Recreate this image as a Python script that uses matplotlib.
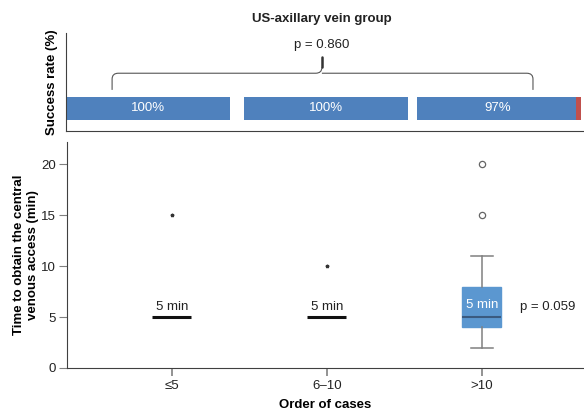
import matplotlib.pyplot as plt
from matplotlib.path import Path
from matplotlib.patches import PathPatch

plt.rcParams['font.family'] = ['Liberation Sans', 'DejaVu Sans']
plt.rcParams['font.size'] = 9.5
plt.rcParams['text.color'] = '#222222'

# data
groups = ["≤5", "6–10", ">10"]
success = [100, 100, 97]
medians = [5, 5, 5]
q1 = [5, 5, 4]
q3 = [5, 5, 8]
whislo = [5, 5, 2]
whishi = [5, 5, 11]
outliers = [[], [], [15, 20]]
extremes = [[15], [10], []]
p_success = "p = 0.860"
p_time = "p = 0.059"

blue_bar = "#4f81bd"
red_bar = "#c0504d"
box_blue = "#5b97d0"
spine_col = "#404040"
fs = 9.5

fig = plt.figure(figsize=(5.84, 4.15), dpi=100)
ax_top = fig.add_axes([0.113, 0.6843, 0.887, 0.236])
ax = fig.add_axes([0.1142, 0.1133, 0.8858, 0.5445])

# ---- top: success rate bars ----
seg_left = [0.0, 0.344, 0.678]
seg_w = 0.316
for left, s in zip(seg_left, success):
    w_ok = seg_w * s / 100
    ax_top.barh(0.23, w_ok, left=left, height=0.235, color=blue_bar)
    if s < 100:
        ax_top.barh(0.23, seg_w - w_ok, left=left + w_ok, height=0.235, color=red_bar)
    ax_top.text(left + seg_w / 2 - (0.003 if s < 100 else 0), 0.23, f"{s}%",
                color="white", ha="center", va="center", fontsize=fs)

# brace
x0, x1, xc, yh, yb = 0.089, 0.9015, 0.494, 0.59, 0.42
rx, ry = 0.012, 0.06
verts = [(x0, yb), (x0, yh - ry), (x0, yh), (x0 + rx, yh), (xc - rx, yh),
         (xc, yh), (xc, yh + ry),
         (xc, yh), (xc + rx, yh), (x1 - rx, yh), (x1, yh), (x1, yh - ry), (x1, yb)]
codes = [Path.MOVETO, Path.LINETO, Path.CURVE3, Path.CURVE3, Path.LINETO,
         Path.CURVE3, Path.CURVE3,
         Path.MOVETO, Path.CURVE3, Path.LINETO, Path.CURVE3, Path.CURVE3, Path.LINETO]
ax_top.add_patch(PathPatch(Path(verts, codes), fill=False, edgecolor="#555555", lw=0.8))
ax_top.plot([xc, xc], [yh + ry, 0.76], color="#333333", lw=1.8, solid_capstyle="round")
ax_top.text(xc, 0.88, p_success, ha="center", va="center", fontsize=fs)

ax_top.set_xlim(0, 1)
ax_top.set_ylim(0, 1)
ax_top.set_xticks([])
ax_top.set_yticks([])
for side in ["top", "right"]:
    ax_top.spines[side].set_visible(False)
for side in ["left", "bottom"]:
    ax_top.spines[side].set_color(spine_col)
ax_top.set_ylabel("Success rate (%)", fontweight="bold", fontsize=fs, labelpad=6)
ax_top.set_title("US-axillary vein group", fontweight="bold", fontsize=fs, pad=8, x=0.494)

# ---- bottom: time boxplots ----
pos = [1, 2, 3]
stats = []
for i in range(3):
    stats.append(dict(med=medians[i], q1=q1[i], q3=q3[i], whislo=whislo[i],
                      whishi=whishi[i], fliers=[]))
bp = ax.bxp(stats, positions=pos, widths=0.255, patch_artist=True, showfliers=False,
            capwidths=0.14)
for i, b in enumerate(bp["boxes"]):
    if q3[i] > q1[i]:
        b.set_facecolor(box_blue)
        b.set_edgecolor(box_blue)
    else:
        b.set_visible(False)
for i, m in enumerate(bp["medians"]):
    if q3[i] > q1[i]:
        m.set_color("#3a5a80")
        m.set_linewidth(1.5)
    else:
        m.set_color("#111111")
        m.set_linewidth(2.2)
for i in range(3):
    for art in bp["whiskers"][2 * i:2 * i + 2] + bp["caps"][2 * i:2 * i + 2]:
        art.set_color("#808080")
        art.set_linewidth(1.1)
        if whishi[i] == whislo[i]:
            art.set_visible(False)

for p, vals in zip(pos, outliers):
    if vals:
        ax.plot([p] * len(vals), vals, "o", ms=4.5, mfc="white", mec="#666666", mew=0.9)
for p, vals in zip(pos, extremes):
    if vals:
        ax.plot([p] * len(vals), vals, "*", ms=2.5, color="#333333")

for i, p in enumerate(pos):
    if q3[i] > q1[i]:
        ax.text(p, medians[i] + 1.2, f"{medians[i]} min", ha="center", va="center",
                color="white", fontsize=fs)
    else:
        ax.text(p, medians[i] + 1.0, f"{medians[i]} min", ha="center", va="center",
                fontsize=fs)
ax.text(3.25, 6.0, p_time, ha="left", va="center", fontsize=fs)

ax.set_xlim(0.3226, 3.66)
ax.set_ylim(0, 22.2)
ax.set_yticks([0, 5, 10, 15, 20])
ax.set_xticks(pos)
ax.set_xticklabels(groups)
ax.tick_params(axis="y", length=6, color="#808080", pad=1.5, labelsize=fs,
               labelcolor="#222222")
ax.tick_params(axis="x", length=6, color="#808080", width=1.2, pad=3, labelsize=fs,
               labelcolor="#222222")
for side in ["top", "right"]:
    ax.spines[side].set_visible(False)
for side in ["left", "bottom"]:
    ax.spines[side].set_color(spine_col)
ax.set_xlabel("Order of cases", fontweight="bold", fontsize=fs, labelpad=5)
ax.set_ylabel("Time to obtain the central\nvenous access (min)", fontweight="bold",
              fontsize=fs, labelpad=1.5, linespacing=1.3)

fig.savefig("out.png", dpi=100)
